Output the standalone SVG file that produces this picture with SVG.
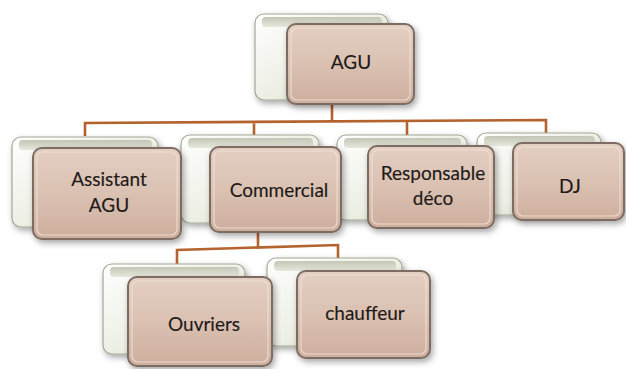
<svg xmlns="http://www.w3.org/2000/svg" width="626" height="369" viewBox="0 0 626 369">
<defs>
  <linearGradient id="frontG" x1="0" y1="0" x2="0" y2="1">
    <stop offset="0" stop-color="#e4cfc3"/>
    <stop offset="0.5" stop-color="#dac1b2"/>
    <stop offset="1" stop-color="#ceae9d"/>
  </linearGradient>
  <linearGradient id="backG" x1="0" y1="0" x2="1" y2="1">
    <stop offset="0" stop-color="#ffffff"/>
    <stop offset="0.55" stop-color="#eceee3"/>
    <stop offset="1" stop-color="#b4b8a4"/>
  </linearGradient>
  <linearGradient id="topG" x1="0" y1="0" x2="0" y2="1">
    <stop offset="0" stop-color="#c3c6b5"/>
    <stop offset="1" stop-color="#e6e8dc"/>
  </linearGradient>
  <filter id="sh" x="-20%" y="-20%" width="140%" height="140%">
    <feDropShadow dx="2" dy="3" stdDeviation="3" flood-color="#000" flood-opacity="0.35"/>
  </filter>
  <style>
    .back{fill:url(#backG);stroke:#a3a894;stroke-width:1.2;filter:url(#sh)}
    .backtop{fill:url(#topG);stroke:none}
    .front{fill:url(#frontG);stroke:#7d6c62;stroke-width:2;filter:url(#sh)}
    .inner{fill:none;stroke:#f1e2d9;stroke-width:1.2;opacity:0.8}
    .lbl{font-family:Lato,"Open Sans","Liberation Sans",sans-serif;font-size:19px;fill:#1e1a18;stroke:#1e1a18;stroke-width:0.15;text-anchor:middle}
    .con{fill:none;stroke:#b4622e;stroke-width:2.6;stroke-linejoin:miter}
  </style>
</defs>
<rect width="626" height="369" fill="#ffffff"/>

<g id="connectors">
  <path class="con" d="M332,104 V122 M85,136 V123 L546,120 V133 M254,136 V122 M407,135 V121"/>
  <path class="con" d="M258,232 V248 M177,266 V250 L338,245 V259"/>
</g>

<g id="node-agu">
  <rect class="back" x="255" y="14" width="133" height="86" rx="9"/>
  <rect class="backtop" x="262" y="17" width="120" height="10" rx="4"/>
  <rect class="front" x="287" y="24" width="127" height="80" rx="9"/>
  <rect class="inner" x="291" y="28" width="119" height="72" rx="6"/>
  <text class="lbl" x="351" y="69">AGU</text>
</g>

<g id="node-dj">
  <rect class="back" x="477" y="133" width="124" height="82" rx="9"/>
  <rect class="backtop" x="484" y="136" width="111" height="10" rx="4"/>
  <rect class="front" x="513" y="143" width="111" height="77" rx="9"/>
  <rect class="inner" x="517" y="147" width="103" height="69" rx="6"/>
  <text class="lbl" x="570" y="193">DJ</text>
</g>

<g id="node-responsable">
  <rect class="back" x="337" y="135" width="130" height="85" rx="9"/>
  <rect class="backtop" x="344" y="138" width="117" height="10" rx="4"/>
  <rect class="front" x="368" y="146" width="126" height="82" rx="9"/>
  <rect class="inner" x="372" y="150" width="118" height="74" rx="6"/>
  <text class="lbl" x="433" y="180">Responsable</text>
  <text class="lbl" x="433" y="205">déco</text>
</g>

<g id="node-commercial">
  <rect class="back" x="181" y="135" width="138" height="88" rx="9"/>
  <rect class="backtop" x="188" y="138" width="125" height="10" rx="4"/>
  <rect class="front" x="210" y="147" width="131" height="85" rx="9"/>
  <rect class="inner" x="214" y="151" width="123" height="77" rx="6"/>
  <text class="lbl" x="279" y="197">Commercial</text>
</g>

<g id="node-assistant">
  <rect class="back" x="12" y="137" width="146" height="90" rx="9"/>
  <rect class="backtop" x="19" y="140" width="133" height="10" rx="4"/>
  <rect class="front" x="33" y="148" width="148" height="91" rx="9"/>
  <rect class="inner" x="37" y="152" width="140" height="83" rx="6"/>
  <text class="lbl" x="109" y="186">Assistant</text>
  <text class="lbl" x="109" y="212">AGU</text>
</g>

<g id="node-chauffeur">
  <rect class="back" x="267" y="258" width="135" height="88" rx="9"/>
  <rect class="backtop" x="274" y="261" width="122" height="10" rx="4"/>
  <rect class="front" x="297" y="271" width="133" height="87" rx="9"/>
  <rect class="inner" x="301" y="275" width="125" height="79" rx="6"/>
  <text class="lbl" x="365" y="320">chauffeur</text>
</g>

<g id="node-ouvriers">
  <rect class="back" x="103" y="264" width="142" height="90" rx="9"/>
  <rect class="backtop" x="110" y="267" width="129" height="10" rx="4"/>
  <rect class="front" x="128" y="277" width="144" height="89" rx="9"/>
  <rect class="inner" x="132" y="281" width="136" height="81" rx="6"/>
  <text class="lbl" x="204" y="331">Ouvriers</text>
</g>
</svg>
